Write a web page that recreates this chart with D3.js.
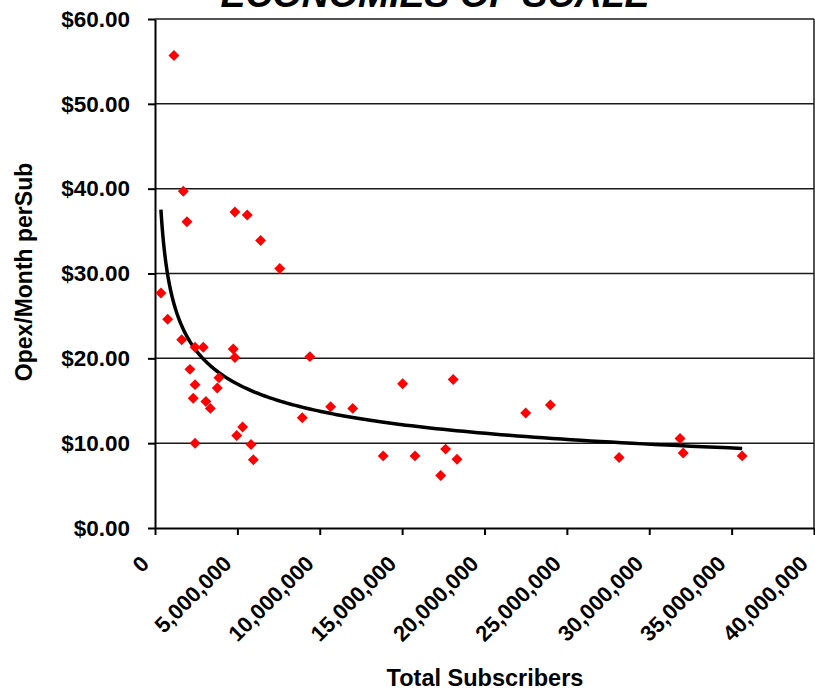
<!DOCTYPE html>
<html>
<head>
<meta charset="utf-8">
<script src="https://cdn.jsdelivr.net/npm/d3@7"></script>
<style>
  body { margin: 0; background: #fff; }
  svg { display: block; font-family: "Liberation Sans", Arial, sans-serif; }
</style>
</head>
<body>
<svg id="chart" width="815" height="692"></svg>
<script>
// ---- Data ----
const subscribers = [0.36, 0.77, 1.15, 1.62, 1.72, 1.94, 2.12, 2.43, 2.43, 2.32, 2.43, 2.93, 3.09, 3.36, 3.78, 3.88,
  4.75, 4.85, 4.85, 4.96, 5.32, 5.6, 5.83, 5.97, 6.41, 7.57, 8.94, 9.4, 10.66, 12.0, 13.85, 15.03, 15.78, 17.34,
  17.64, 18.1, 18.33, 22.5, 24.0, 28.17, 31.87, 32.06, 35.64].map(v => v * 1e6);
const opexPerSub = [27.7, 24.6, 55.7, 22.2, 39.7, 36.1, 18.7, 21.3, 16.9, 15.3, 10.0, 21.3, 14.9, 14.1, 16.5, 17.7,
  21.1, 20.1, 37.25, 10.9, 11.9, 36.9, 9.85, 8.05, 33.9, 30.6, 13.0, 20.2, 14.3, 14.1, 8.5, 17.0, 8.5, 6.2,
  9.3, 17.5, 8.1, 13.55, 14.5, 8.3, 10.56, 8.84, 8.5];
const xTicks = [0, 5e6, 10e6, 15e6, 20e6, 25e6, 30e6, 35e6, 40e6];
const yTicks = [0, 10, 20, 30, 40, 50, 60];
const titleText = "ECONOMIES OF SCALE";
const xLabel = "Total Subscribers";
const yLabel = "Opex/Month perSub";

// ---- Layout ----
const svg = d3.select("#chart");
const W = 815, H = 692;
const m = { left: 155, top: 19, right: 1, bottom: 164 };
const x = d3.scaleLinear().domain([0, 40e6]).range([m.left, W - m.right]);
const y = d3.scaleLinear().domain([0, 60]).range([H - m.bottom, m.top]);
const FONT = "Liberation Sans, Arial, sans-serif";

// Gridlines
svg.append("g").selectAll("line").data(yTicks.filter(d => d > 0)).join("line")
  .attr("x1", x(0)).attr("x2", x(40e6))
  .attr("y1", d => y(d)).attr("y2", d => y(d))
  .attr("stroke", "#1a1a1a").attr("stroke-width", 1.5);
// Right border
svg.append("line").attr("x1", x(40e6)).attr("x2", x(40e6)).attr("y1", y(60)).attr("y2", y(0))
  .attr("stroke", "#1a1a1a").attr("stroke-width", 1.5);

// Y axis
const yAxis = svg.append("g").attr("transform", `translate(${m.left},0)`)
  .call(d3.axisLeft(y).tickValues(yTicks).tickFormat(d => "$" + d.toFixed(2)).tickSize(7).tickPadding(18).tickSizeOuter(0));
yAxis.select(".domain").attr("stroke", "#000").attr("stroke-width", 2);
yAxis.selectAll(".tick line").attr("stroke", "#000").attr("stroke-width", 2);
yAxis.selectAll("text").attr("font-size", 22.5).attr("font-weight", "bold").attr("fill", "#000")
  .attr("font-family", FONT);

// X axis
const xAxis = svg.append("g").attr("transform", `translate(0,${y(0)})`)
  .call(d3.axisBottom(x).tickValues(xTicks).tickFormat(d3.format(",")).tickSize(7).tickSizeOuter(0));
xAxis.select(".domain").attr("stroke", "#000").attr("stroke-width", 2);
xAxis.selectAll(".tick line").attr("stroke", "#000").attr("stroke-width", 2);
xAxis.selectAll("text").attr("font-size", 22).attr("font-weight", "bold").attr("fill", "#000")
  .attr("font-family", FONT)
  .attr("text-anchor", "end").attr("y", 0).attr("dy", 0)
  .attr("transform", "translate(-5,37) rotate(-45)");

// Power trendline (least squares on log-log of the data)
const lx = subscribers.map(Math.log), ly = opexPerSub.map(Math.log);
const mx = d3.mean(lx), my = d3.mean(ly);
const b = d3.sum(lx, (v, i) => (v - mx) * (ly[i] - my)) / d3.sum(lx, v => (v - mx) * (v - mx));
const a = Math.exp(my - b * mx);
const xmin = d3.min(subscribers), xmax = d3.max(subscribers);
const trend = d3.range(0, 201).map(i => {
  const xv = xmin * Math.pow(xmax / xmin, i / 200);
  return [xv, a * Math.pow(xv, b)];
});
svg.append("path").datum(trend)
  .attr("d", d3.line().x(d => x(d[0])).y(d => y(d[1])))
  .attr("fill", "none").attr("stroke", "#000").attr("stroke-width", 3.5);

// Points
const pts = subscribers.map((s, i) => [s, opexPerSub[i]]);
svg.append("g").selectAll("path").data(pts).join("path")
  .attr("d", d3.symbol().type(d3.symbolSquare).size(60))
  .attr("transform", d => `translate(${x(d[0])},${y(d[1])}) rotate(45)`)
  .attr("fill", "#ff0000");

// Title
svg.append("text").attr("x", 435).attr("y", 7).attr("text-anchor", "middle")
  .attr("font-size", 37.5).attr("font-weight", "bold").attr("font-style", "italic")
  .text(titleText);

// Axis labels
svg.append("text").attr("x", 485).attr("y", 686).attr("text-anchor", "middle")
  .attr("font-size", 23.5).attr("font-weight", "bold").text(xLabel);
svg.append("text").attr("transform", "translate(32,272) rotate(-90)").attr("text-anchor", "middle")
  .attr("font-size", 23).attr("font-weight", "bold").text(yLabel);
</script>
</body>
</html>
